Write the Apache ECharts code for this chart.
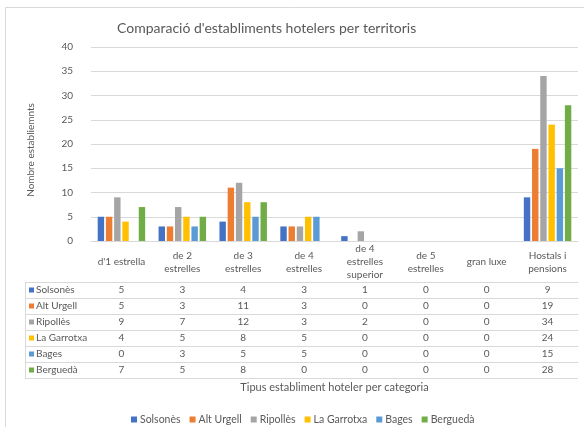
<!DOCTYPE html>
<html>
<head>
<meta charset="utf-8">
<script src="https://cdn.jsdelivr.net/npm/echarts@6/dist/echarts.min.js"></script>
<style>
  html, body { margin: 0; padding: 0; background: #fff; }
  #chart { width: 584px; height: 427px; }
</style>
</head>
<body>
<div id="chart"></div>
<script>
// categories (x) and territories (series)
const categories = ["d'1 estrella", 'de 2\nestrelles', 'de 3\nestrelles', 'de 4\nestrelles',
  'de 4\nestrelles\nsuperior', 'de 5\nestrelles', 'gran luxe', 'Hostals i\npensions'];
const territories = ['Solsonès', 'Alt Urgell', 'Ripollès', 'La Garrotxa', 'Bages', 'Berguedà'];

const solsones  = [5, 3, 4, 3, 1, 0, 0, 9];
const altUrgell = [5, 3, 11, 3, 0, 0, 0, 19];
const ripolles  = [9, 7, 12, 3, 2, 0, 0, 34];
const garrotxa  = [4, 5, 8, 5, 0, 0, 0, 24];
const bages     = [0, 3, 5, 5, 0, 0, 0, 15];
const bergueda  = [7, 5, 8, 0, 0, 0, 0, 28];

const yTicks = { min: 0, max: 40, interval: 5 };

const rows = [solsones, altUrgell, ripolles, garrotxa, bages, bergueda];
const colors = ['#4472C4', '#ED7D31', '#A5A5A5', '#FFC000', '#5B9BD5', '#70AD47'];

// layout of plot + data table
const gridLeft = 91, gridRight = 6, gridTop = 47, axisY = 241;
const headerH = 41, rowH = 16, tableLeft = 25;
const lineCol = '#d9d9d9', textCol = '#595959';
const font = 'Lato, "Open Sans", sans-serif';

const chart = echarts.init(document.getElementById('chart'));

const xAxes = [{
  type: 'category',
  data: categories,
  gridIndex: 0,
  position: 'bottom',
  axisLine: { lineStyle: { color: lineCol } },
  axisTick: { length: headerH + rowH * rows.length, lineStyle: { color: lineCol } },
  axisLabel: { interval: 0, margin: 21, verticalAlign: 'middle', color: textCol, fontSize: 10, fontFamily: font, lineHeight: 13 },
  name: 'Tipus establiment hoteler per categoria',
  nameLocation: 'middle',
  nameGap: 141,
  nameTextStyle: { color: textCol, fontSize: 11, fontFamily: font }
}];

rows.forEach((vals, i) => {
  xAxes.push({
    type: 'category',
    data: categories,
    gridIndex: 0,
    position: 'bottom',
    offset: headerH + rowH * i,
    axisLine: { lineStyle: { color: lineCol } },
    axisTick: { show: false },
    axisLabel: { interval: 0, margin: 8, verticalAlign: 'middle', color: textCol, fontSize: 10, fontFamily: font,
      formatter: (v, idx) => String(vals[idx]) },
    name: '{m|}{t|' + territories[i] + '}',
    nameLocation: 'start',
    nameGap: gridLeft - tableLeft - 4,
    nameTextStyle: {
      align: 'left', verticalAlign: 'top', color: textCol, fontSize: 10, fontFamily: font,
      rich: {
        m: { width: 5, height: 5, backgroundColor: colors[i], verticalAlign: 'middle' },
        t: { padding: [0, 0, 0, 2], color: textCol, fontSize: 10, fontFamily: font, lineHeight: rowH, height: rowH, verticalAlign: 'middle' }
      }
    }
  });
});

// left column borders of the table
const tableBottom = axisY + headerH + rowH * rows.length;
const graphics = [{
  type: 'rect', shape: { x: 5.5, y: 7.5, width: 700, height: 500 },
  style: { fill: 'none', stroke: lineCol, lineWidth: 1 }, silent: true
}, {
  type: 'line', shape: { x1: tableLeft + 0.5, y1: axisY + headerH, x2: tableLeft + 0.5, y2: tableBottom },
  style: { stroke: lineCol, lineWidth: 1 }
}];
for (let k = 0; k <= rows.length; k++) {
  const y = axisY + headerH + rowH * k + 0.5;
  graphics.push({
    type: 'line',
    shape: { x1: tableLeft, y1: y, x2: k === rows.length ? 584 - gridRight : gridLeft, y2: y },
    style: { stroke: lineCol, lineWidth: 1 }
  });
}

chart.setOption({
  animation: false,
  textStyle: { fontFamily: font },
  title: {
    text: "Comparació d'establiments hotelers per territoris",
    left: 112, top: 16,
    textStyle: { color: textCol, fontSize: 14, fontWeight: 'normal', fontFamily: font }
  },
  legend: {
    data: territories,
    top: 409, left: 126,
    icon: 'rect', itemWidth: 6, itemHeight: 6, itemGap: 9,
    textStyle: { color: textCol, fontSize: 10.5, fontFamily: font, padding: [0, 0, 0, -2] }
  },
  grid: { left: gridLeft, right: gridRight, top: gridTop, bottom: 427 - axisY, containLabel: false },
  xAxis: xAxes,
  yAxis: {
    type: 'value',
    min: yTicks.min, max: yTicks.max, interval: yTicks.interval,
    axisLine: { show: false },
    axisTick: { show: false },
    splitLine: { lineStyle: { color: lineCol } },
    axisLabel: { color: textCol, fontSize: 10, margin: 18, fontFamily: font },
    name: 'Nombre establiemnts',
    nameLocation: 'middle',
    nameGap: 55,
    nameTextStyle: { color: textCol, fontSize: 10, fontFamily: font, padding: [0, 12, 0, 0] }
  },
  graphic: graphics,
  series: rows.map((vals, i) => ({
    name: territories[i],
    type: 'bar',
    xAxisIndex: 0,
    data: vals,
    itemStyle: { color: colors[i] },
    barGap: '28%',
    barCategoryGap: '22%'
  }))
});
</script>
</body>
</html>
